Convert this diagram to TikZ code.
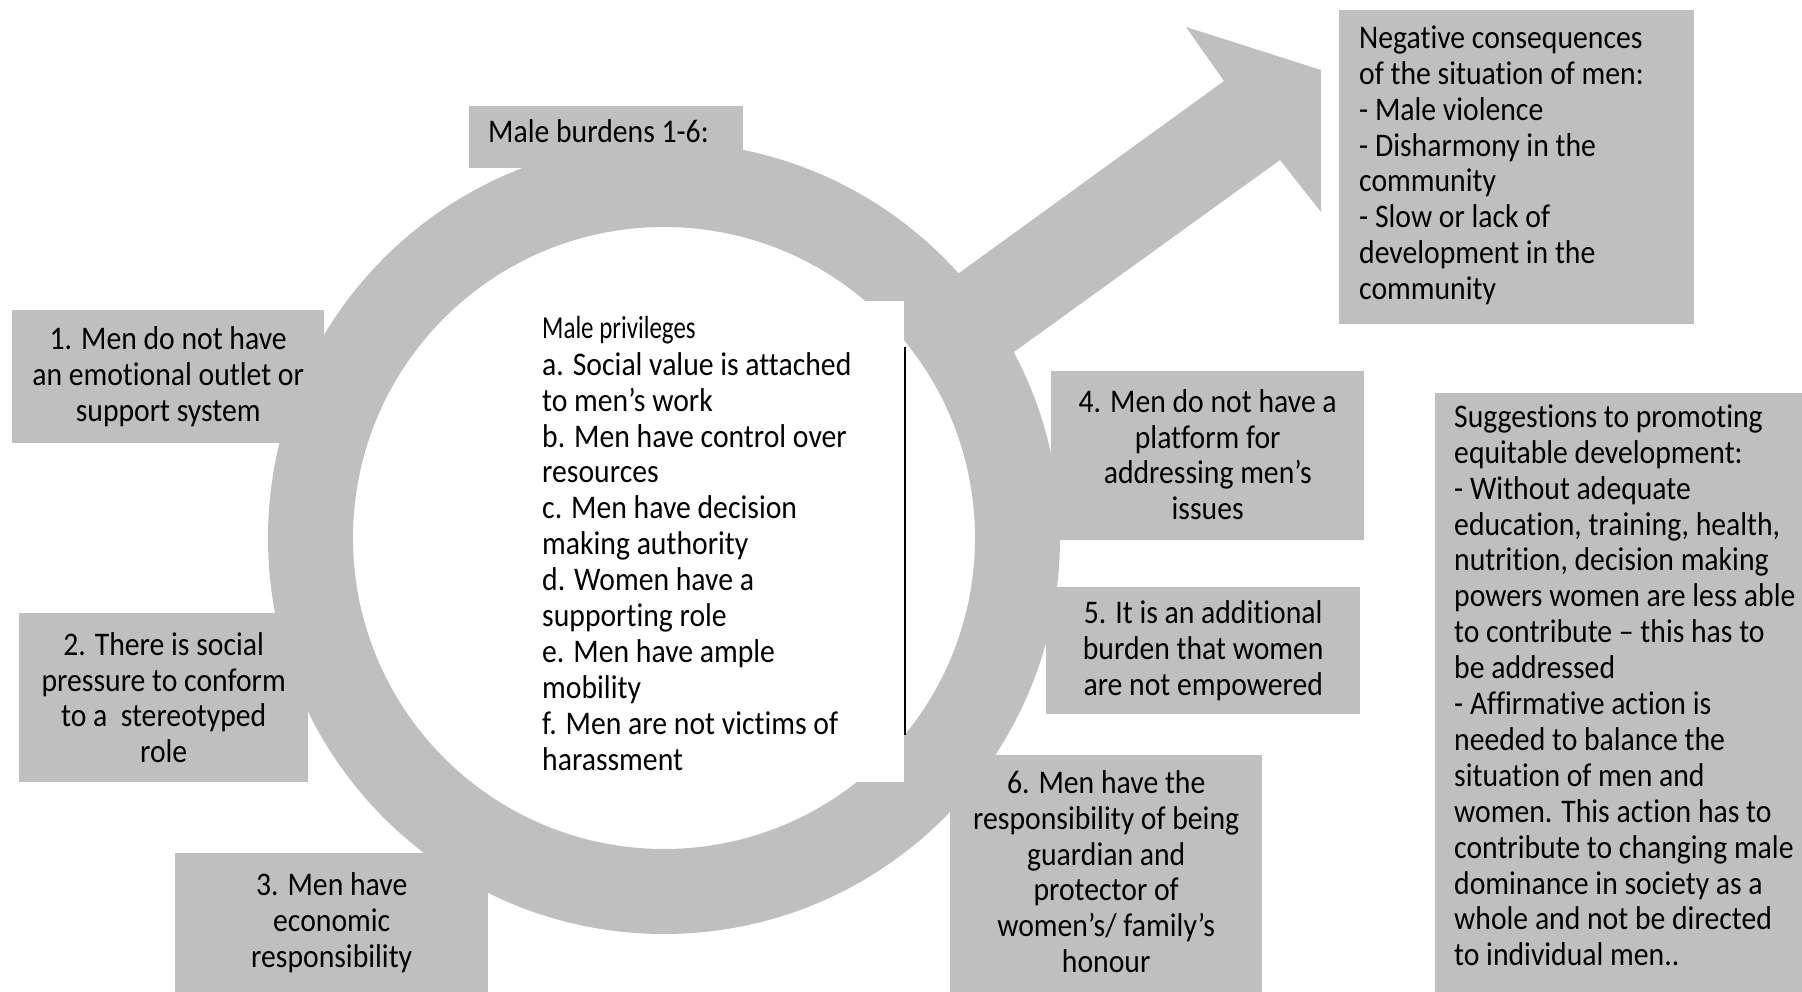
\documentclass[tikz,border=0pt]{standalone}
\usepackage{fontspec}
\setmainfont{Carlito}[FakeStretch=0.9, Ligatures=NoCommon]
\newfontfamily\privfont{Carlito}[FakeStretch=0.78, Ligatures=NoCommon]
\definecolor{ringgray}{RGB}{191,191,191}
\tikzset{
  box/.style={fill=ringgray, draw=none, inner sep=0pt, anchor=north west},
  plain/.style={font=\fontsize{33}{35.9}\selectfont, inner sep=0pt, text=black},
  txt/.style={plain, align=center},
  ltxt/.style={plain, align=left, anchor=north west},
}
\begin{document}
\begin{tikzpicture}[x=1pt,y=-1pt]
\useasboundingbox (0,0) rectangle (1802,992);
\fill[white] (0,0) rectangle (1802,992);
% ring of the male symbol
\fill[ringgray, even odd rule] (664,538) circle (396pt) (664,538) circle (311pt);
% arrow of the male symbol
\fill[ringgray] (908,310) -- (1224,81) -- (1186,27) -- (1321,70) -- (1321,212)
  -- (1280,160) -- (964,388) -- cycle;
% white panel with privileges
\node[fill=white, inner sep=0pt, anchor=north west, minimum width=384pt, minimum height=481pt] (priv) at (520,301) {};
\coordinate (lineTop) at (905,347);
\coordinate (lineBot) at (905,735);
\draw[line width=1.4pt, black] (lineTop) -- (lineBot);
\node[ltxt] (privt) at (542,313) {\strut{\privfont\fontsize{32}{35.9}\selectfont Male privileges}\\[1pt]
a. Social value is attached\\to men’s work\\b. Men have control over\\resources\\c. Men have decision\\making authority\\d. Women have a\\supporting role\\e. Men have ample\\mobility\\f. Men are not victims of\\harassment};
% title box
\node[box, minimum width=274pt, minimum height=62pt] (burd) at (469,106) {};
\node[plain, anchor=base west] (burdt) at (488,143) {Male burdens 1-6:};
% burden boxes
\node[box, minimum width=312pt, minimum height=133pt] (b1) at (12,310) {};
\node[txt] (t1) at (b1.center) {1. Men do not have\\an emotional outlet or\\support system};
\node[box, minimum width=289pt, minimum height=169pt] (b2) at (19,613) {};
\node[txt] (t2) at (b2.center) {2. There is social\\pressure to conform\\to a~ stereotyped\\role};
\node[box, minimum width=313pt, minimum height=139pt] (b3) at (175,853) {};
\node[txt] (t3) at (b3.center) {3. Men have\\economic\\responsibility};
\node[box, minimum width=313pt, minimum height=169pt] (b4) at (1051,371) {};
\node[txt] (t4) at ([yshift=1pt]b4.center) {4. Men do not have a\\platform for\\addressing men’s\\issues};
\node[box, minimum width=314pt, minimum height=127pt] (b5) at (1046,587) {};
\node[txt] (t5) at (b5.center) {5. It is an additional\\burden that women\\are not empowered};
\node[box, minimum width=312pt, minimum height=237pt] (b6) at (950,755) {};
\node[txt] (t6) at ([yshift=2pt]b6.center) {6. Men have the\\responsibility of being\\guardian and\\protector of\\women’s/ family’s\\honour};
% consequences
\node[box, minimum width=355pt, minimum height=314pt] (neg) at (1339,10) {};
\node[ltxt] (negt) at (1359,23) {\strut Negative consequences\\of the situation of men:\\- Male violence\\- Disharmony in the\\community\\- Slow or lack of\\development in the\\community};
% suggestions
\node[box, minimum width=367pt, minimum height=599pt] (sug) at (1435,393) {};
\node[ltxt] (sugt) at (1454,402) {\strut Suggestions to promoting\\equitable development:\\- Without adequate\\education, training, health,\\nutrition, decision making\\powers women are less able\\to contribute – this has to\\be addressed\\- Affirmative action is\\needed to balance the\\situation of men and\\women. This action has to\\contribute to changing male\\dominance in society as a\\whole and not be directed\\to individual men..};
\end{tikzpicture}
\end{document}
